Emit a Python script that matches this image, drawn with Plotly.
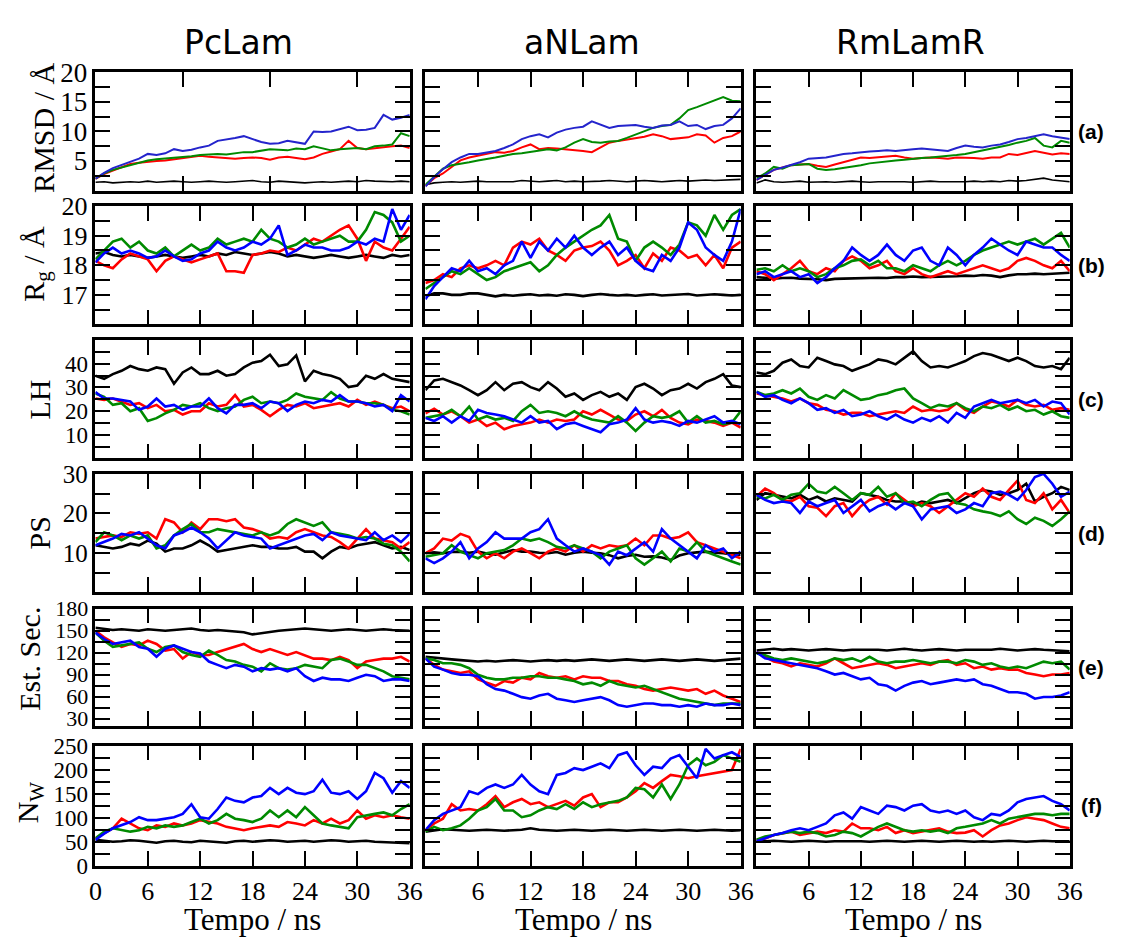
import plotly.graph_objects as go

W, H = 1123, 938

# ---------------- data (time in ns) ----------------
time_ns = list(range(0, 37))

col_titles = ["PcLam", "aNLam", "RmLamR"]
row_titles = ["RMSD / Å", "R<sub>g</sub> / Å", "LH", "PS", "Est. Sec.", "N<sub>W</sub>"]
row_tags = ["(a)", "(b)", "(c)", "(d)", "(e)", "(f)"]
x_ticks = [0, 6, 12, 18, 24, 30, 36]

# ---- (a) RMSD ----
rmsd_pclam_k = [1.4,1.5,1.3,1.4,1.5,1.4,1.6,1.4,1.5,1.6,1.5,1.4,1.5,1.6,1.5,1.4,1.5,1.6,1.7,1.5,1.4,1.6,1.5,1.4,1.3,1.4,1.5,1.4,1.5,1.6,1.5,1.7,1.6,1.5,1.5,1.6,1.5]
rmsd_pclam_r = [2.0,2.8,3.4,4.0,4.5,4.7,4.9,5.0,5.1,5.3,5.5,5.6,5.9,5.7,5.6,5.5,5.4,5.5,5.6,5.5,5.2,5.6,5.7,5.5,5.3,5.6,6.2,6.6,7.0,8.4,7.2,7.0,7.2,7.4,7.5,7.6,7.2]
rmsd_pclam_g = [2.0,2.9,3.5,3.9,4.2,4.7,5.1,5.3,5.4,5.5,5.6,5.8,6.0,6.1,6.2,6.1,6.3,6.5,6.5,6.7,7.0,6.9,6.8,7.1,7.0,7.5,7.2,6.8,7.0,7.1,7.2,7.0,7.5,7.6,7.8,9.7,9.2]
rmsd_pclam_b = [2.0,3.0,3.8,4.3,4.8,5.4,6.2,6.0,6.3,7.0,6.7,6.9,7.3,7.6,8.4,8.6,8.9,9.2,8.7,8.2,7.9,8.0,8.4,8.2,7.9,10.0,9.9,10.0,10.4,10.8,10.2,10.3,10.6,12.8,12.0,12.3,12.8]

rmsd_anlam_k = [1.0,1.3,1.4,1.5,1.4,1.5,1.6,1.5,1.5,1.6,1.5,1.7,1.6,1.5,1.6,1.7,1.5,1.6,1.5,1.5,1.6,1.7,1.6,1.5,1.6,1.7,1.6,1.5,1.6,1.7,1.6,1.7,1.8,1.7,1.8,1.8,1.9]
rmsd_anlam_r = [0.8,2.1,2.9,4.0,5.1,5.6,5.9,6.2,6.5,6.4,6.7,7.3,7.8,7.0,7.2,7.1,7.0,6.8,6.7,6.5,7.3,8.1,8.4,8.6,8.9,9.1,9.5,9.2,8.7,8.9,9.0,9.5,9.3,8.1,8.9,9.2,10.0]
rmsd_anlam_g = [1.0,2.4,3.7,4.3,4.5,4.8,5.1,5.3,5.6,5.9,6.2,6.3,6.5,6.8,7.0,6.8,7.3,8.1,8.7,8.2,8.1,8.3,8.4,8.9,9.5,10.0,10.6,10.9,11.1,12.2,13.6,14.1,14.7,15.2,15.8,15.2,15.1]
rmsd_anlam_b = [0.7,2.3,3.6,4.8,5.6,6.2,6.2,6.5,6.7,7.2,7.8,8.7,9.2,9.5,9.0,9.8,10.3,10.6,10.8,11.7,11.1,10.6,10.9,11.0,11.1,10.8,10.6,11.0,11.1,11.7,10.9,11.1,10.4,10.9,11.1,12.2,13.9]

rmsd_rmlamr_k = [1.3,1.8,1.5,1.4,1.5,1.6,1.4,1.5,1.5,1.4,1.5,1.6,1.5,1.4,1.5,1.5,1.6,1.5,1.4,1.5,1.6,1.5,1.5,1.4,1.5,1.6,1.5,1.6,1.5,1.7,1.6,1.7,1.9,2.1,1.8,1.7,1.5]
rmsd_rmlamr_r = [1.8,2.7,3.5,3.9,4.3,4.4,4.5,4.2,4.0,4.4,4.8,5.2,5.6,5.5,5.6,5.7,5.9,5.6,5.4,5.5,5.6,5.5,5.4,5.6,5.6,5.5,5.4,5.6,5.6,6.2,6.0,6.3,6.7,6.4,6.1,6.3,6.2]
rmsd_rmlamr_g = [2.1,2.9,4.0,3.7,4.3,4.4,4.5,3.7,3.5,3.6,3.8,4.1,4.3,4.6,4.8,4.9,5.1,5.2,5.4,5.5,5.6,5.7,5.9,6.0,6.2,6.5,6.7,7.0,7.3,7.7,8.1,8.4,8.9,7.6,7.3,8.4,8.1]
rmsd_rmlamr_b = [1.8,2.7,3.5,3.9,4.3,4.8,5.4,5.5,5.6,5.9,6.2,6.3,6.5,6.6,6.7,6.8,6.7,6.9,7.0,7.1,7.0,6.9,6.7,7.2,7.6,7.4,7.3,7.6,7.8,8.2,8.7,8.9,9.2,9.5,9.2,8.9,8.7]

# ---- (b) Rg ----
rg_pclam_k = [18.4,18.45,18.35,18.3,18.35,18.3,18.25,18.3,18.35,18.3,18.25,18.3,18.35,18.3,18.4,18.35,18.45,18.4,18.35,18.4,18.45,18.4,18.3,18.35,18.3,18.25,18.3,18.35,18.3,18.25,18.3,18.35,18.3,18.25,18.35,18.3,18.35]
rg_pclam_r = [18.15,18.0,17.9,18.2,18.4,18.3,18.2,17.8,18.15,18.3,18.2,18.1,18.2,18.3,18.4,17.8,17.8,17.75,18.35,18.4,18.5,18.45,18.6,18.5,18.7,18.9,18.8,19.0,19.2,19.35,18.9,18.15,18.8,18.6,18.5,18.9,19.3]
rg_pclam_g = [18.2,18.5,18.8,18.9,18.6,18.8,18.5,18.4,18.6,18.3,18.5,18.7,18.5,18.6,18.9,18.7,18.8,18.9,18.8,19.2,18.9,18.8,18.6,18.7,18.9,18.7,18.8,18.9,19.0,18.8,18.8,19.2,19.8,19.7,19.45,18.8,19.0]
rg_pclam_b = [18.1,18.4,18.6,18.4,18.5,18.4,18.25,18.3,18.5,18.3,18.15,18.2,18.4,18.5,18.8,18.6,18.5,18.6,18.8,18.7,18.9,19.35,18.35,18.5,18.7,18.6,18.6,18.5,18.5,18.6,18.8,18.7,18.9,18.8,19.9,19.2,19.7]

rg_anlam_k = [16.95,17.05,17.05,17.0,17.0,17.05,17.05,17.0,16.95,17.0,16.97,17.0,17.02,16.98,17.0,16.97,17.02,17.0,16.96,17.0,17.03,17.0,16.98,17.0,16.97,17.0,17.02,16.98,17.0,17.0,17.03,16.98,17.0,17.02,17.0,16.98,17.0]
rg_anlam_r = [17.4,17.5,17.7,17.6,17.9,18.0,17.9,18.0,18.15,18.0,18.6,18.8,18.7,18.9,18.5,18.35,18.15,18.5,18.6,18.65,18.8,18.5,18.0,18.15,18.35,17.9,18.4,18.15,18.6,18.5,18.25,18.35,18.0,18.35,17.9,18.6,18.8]
rg_anlam_g = [17.2,17.4,17.6,17.8,17.7,17.9,17.7,17.5,17.6,17.8,17.9,18.0,18.1,17.8,18.0,18.35,18.6,18.8,19.0,19.2,19.35,19.7,18.9,18.8,18.15,18.6,18.8,18.6,18.35,18.7,19.45,19.35,19.0,19.7,19.2,19.7,19.9]
rg_anlam_b = [16.85,17.3,17.6,17.9,17.8,18.15,17.8,17.9,17.7,18.0,18.15,18.8,18.25,18.8,18.5,18.9,18.6,19.0,18.6,18.35,18.6,18.8,18.35,18.6,18.15,17.9,17.8,18.35,18.15,18.6,19.45,19.2,18.6,18.35,18.15,18.8,19.9]

rg_rmlamr_k = [17.6,17.58,17.55,17.57,17.58,17.55,17.55,17.53,17.5,17.54,17.55,17.56,17.55,17.57,17.58,17.57,17.6,17.6,17.62,17.6,17.6,17.61,17.62,17.63,17.65,17.64,17.67,17.65,17.6,17.66,17.7,17.7,17.72,17.7,17.72,17.74,17.75]
rg_rmlamr_r = [17.8,17.7,17.5,17.7,17.9,18.15,17.8,17.7,17.9,17.8,18.15,18.3,18.15,17.9,18.0,18.15,17.8,17.7,17.9,17.7,17.6,17.7,17.8,17.7,17.8,17.9,18.0,17.9,17.8,17.9,18.15,18.25,18.15,18.0,17.9,18.15,17.8]
rg_rmlamr_g = [17.85,17.9,17.8,18.0,17.8,17.9,17.8,17.6,17.7,17.9,18.0,18.15,18.2,18.0,18.15,17.9,17.9,17.8,18.0,17.9,17.8,18.0,18.15,18.0,18.15,18.35,18.5,18.6,18.7,18.8,18.7,18.8,18.9,18.7,18.9,19.1,18.6]
rg_rmlamr_b = [17.7,17.8,17.6,17.7,17.8,17.6,17.7,17.4,17.6,17.9,18.15,18.6,18.35,18.15,18.35,18.7,18.35,18.15,18.5,18.6,18.15,18.0,18.6,18.35,18.0,18.35,18.6,18.9,18.7,18.5,18.35,18.8,18.7,18.6,18.6,18.35,18.15]

# ---- (c) LH ----
lh_pclam_k = [34.9,33.6,35.6,37.0,39.0,37.7,37.0,38.4,37.7,31.5,36.3,38.4,35.6,35.6,37.0,34.9,35.6,38.4,40.4,41.1,43.8,39.0,39.7,43.5,32.5,37.0,35.6,34.9,33.6,30.1,30.8,34.9,33.6,35.6,33.6,32.9,32.2]
lh_pclam_r = [25.3,24.7,25.3,24.0,22.6,23.3,21.2,22.6,19.9,20.5,18.5,19.9,19.9,23.3,21.9,22.6,26.7,21.9,22.6,20.5,17.8,20.5,22.6,21.9,23.3,21.2,21.9,22.6,23.3,21.9,24.7,22.6,24.0,22.6,21.2,21.9,19.9]
lh_pclam_g = [27.4,26.0,22.6,23.3,19.9,21.2,15.8,17.0,19.0,20.5,22.6,21.9,23.3,21.2,20.0,21.2,21.9,24.7,26.0,23.3,24.0,23.3,24.7,27.4,26.0,25.3,24.7,28.0,25.3,24.0,24.0,23.3,23.3,22.6,20.5,19.9,18.5]
lh_pclam_b = [28.0,25.3,25.3,24.7,24.0,20.5,21.9,25.3,21.9,22.6,20.5,21.9,21.9,25.3,21.2,19.0,22.6,22.6,23.3,21.2,24.0,23.3,20.0,22.6,24.0,23.3,24.7,24.0,26.7,24.0,24.0,23.3,21.9,22.6,20.0,26.7,24.0]

lh_anlam_k = [28.8,32.9,33.6,32.2,30.8,28.8,26.7,28.8,32.2,28.8,31.5,32.2,30.1,28.8,32.2,29.5,26.0,27.4,24.7,26.7,28.1,26.0,27.4,24.7,30.1,31.5,29.5,26.7,28.8,29.5,31.5,29.5,32.2,33.6,35.6,30.8,30.1]
lh_anlam_r = [19.0,21.0,18.5,19.9,17.8,15.1,16.4,13.7,15.1,12.3,13.7,14.4,15.1,16.4,15.1,16.4,15.8,16.4,19.9,18.5,20.5,18.5,16.4,15.8,18.5,19.9,17.8,20.5,17.1,15.1,14.4,16.4,15.8,15.1,13.7,15.1,13.0]
lh_anlam_g = [17.1,17.8,18.5,20.5,17.8,21.9,16.4,17.8,16.4,17.1,15.8,19.9,22.6,19.2,19.9,19.2,17.8,19.9,17.8,16.4,15.8,15.1,17.8,15.1,11.6,15.1,17.8,17.1,17.8,19.9,15.1,17.8,15.1,15.8,14.4,15.1,19.9]
lh_anlam_b = [17.1,15.8,17.8,15.1,17.8,15.8,20.5,19.2,18.5,17.8,16.4,15.1,17.8,15.1,15.8,12.3,14.4,15.1,13.7,12.3,11.0,14.4,15.1,16.4,21.2,16.4,15.1,15.8,15.1,13.7,15.8,15.1,16.4,17.8,15.1,15.8,14.4]

lh_rmlamr_k = [36.3,35.6,37.0,40.4,41.8,39.0,38.4,42.5,41.1,39.7,39.0,37.0,38.4,39.7,41.8,41.1,39.7,42.5,45.2,41.1,38.4,39.0,38.4,39.7,41.1,43.2,44.5,43.8,42.5,41.1,42.5,41.1,39.0,38.4,39.0,37.7,42.5]
lh_rmlamr_r = [27.4,26.7,26.0,25.3,24.0,25.3,23.3,22.6,20.5,19.9,18.5,19.2,19.2,17.8,18.5,19.2,19.9,19.2,21.9,19.9,20.5,19.9,20.5,23.3,20.5,19.2,21.9,24.0,23.3,21.9,24.7,22.6,21.9,22.6,20.5,21.2,20.5]
lh_rmlamr_g = [28.1,26.7,27.4,28.8,27.4,29.5,26.0,24.7,26.7,25.3,28.8,26.7,24.7,25.3,26.7,27.4,28.8,29.5,25.3,23.3,21.2,22.6,21.9,23.3,21.2,19.9,21.9,21.2,22.6,20.5,21.9,19.9,20.5,18.5,19.9,17.8,17.1]
lh_rmlamr_b = [28.1,26.0,26.7,24.7,23.3,25.3,23.3,20.5,21.2,19.2,20.5,17.8,18.5,19.9,17.8,16.4,18.5,16.4,15.1,17.1,15.8,17.8,15.1,19.2,17.1,21.9,23.3,24.7,23.3,24.0,24.7,23.3,24.7,21.9,24.0,23.3,18.5]

# ---- (d) PS ----
ps_pclam_k = [11.9,11.5,11.1,11.5,12.3,11.9,13.1,12.3,10.3,11.1,11.1,11.9,13.1,11.9,10.3,10.7,11.1,11.5,11.9,11.5,11.5,11.1,11.1,11.5,10.3,10.3,8.6,10.3,11.5,11.1,11.9,12.3,12.7,11.9,11.1,11.5,10.7]
ps_pclam_r = [13.6,14.0,14.4,14.0,15.2,14.8,15.2,13.6,18.5,17.7,15.2,17.7,16.0,18.5,18.5,18.0,18.5,16.4,16.0,15.2,13.6,14.0,13.6,15.2,16.0,15.2,14.4,14.0,12.7,11.1,13.6,16.0,13.6,13.2,12.7,11.1,12.7]
ps_pclam_g = [12.7,15.2,14.4,13.2,14.4,13.6,14.4,11.1,11.9,14.4,16.0,17.3,15.2,15.2,16.0,15.6,15.2,14.8,14.4,15.2,14.4,15.2,17.3,18.5,17.7,16.8,17.7,15.2,14.8,14.4,13.6,14.0,13.6,12.3,11.9,10.3,7.8]
ps_pclam_b = [11.9,12.7,13.6,14.8,14.4,15.2,13.6,11.9,11.1,14.4,15.2,16.4,15.2,13.6,11.1,13.2,15.2,14.4,14.0,13.6,11.1,11.9,12.7,13.6,14.4,14.8,13.2,15.2,14.4,14.0,13.6,13.2,15.2,13.2,14.4,12.7,14.8]

ps_anlam_k = [9.9,10.1,9.9,10.2,10.3,10.0,10.3,9.8,9.5,10.1,10.7,10.3,10.3,10.0,9.9,10.2,9.5,10.0,10.3,10.0,9.9,9.4,8.6,9.2,9.5,9.0,9.1,8.8,8.2,9.3,9.9,10.1,10.3,10.0,9.9,9.6,9.5]
ps_anlam_r = [9.9,11.1,13.6,13.1,14.8,14.0,10.3,8.6,9.9,8.6,10.3,11.1,9.9,8.6,10.3,11.1,10.3,11.9,10.3,11.9,11.1,11.9,11.5,11.9,13.6,11.9,14.4,14.4,13.6,14.0,15.2,12.7,11.9,11.1,10.3,9.4,8.6]
ps_anlam_g = [9.0,9.4,9.9,11.9,10.3,9.4,8.6,9.9,10.3,10.7,11.9,13.6,13.1,13.6,12.7,11.5,11.1,11.9,11.1,10.3,8.6,10.3,11.1,11.9,8.6,7.0,8.6,10.3,7.8,11.1,10.3,12.7,10.3,9.4,8.6,7.8,7.0]
ps_anlam_b = [8.6,7.4,8.6,10.3,12.7,8.6,11.1,12.7,15.2,13.6,13.6,13.6,15.2,16.0,18.5,13.6,11.9,10.3,11.1,10.3,9.4,7.0,10.3,9.4,11.1,12.7,10.3,16.0,13.6,11.9,10.3,8.6,11.9,10.3,11.1,8.6,10.3]

ps_rmlamr_k = [23.4,25.1,24.7,24.2,23.8,24.7,23.4,24.2,23.0,23.8,23.4,23.0,25.1,24.7,24.2,23.4,23.0,23.0,22.2,23.0,22.6,23.0,23.4,22.6,23.8,25.1,25.9,25.5,24.7,25.1,25.9,27.5,23.0,24.2,25.1,26.7,25.9]
ps_rmlamr_r = [24.2,26.3,25.1,23.4,23.0,24.2,21.8,21.4,19.3,21.8,22.6,19.3,21.8,23.4,24.2,22.2,25.1,23.4,21.8,22.6,21.8,20.1,21.8,23.4,25.1,24.2,26.3,24.2,23.4,25.9,28.3,23.4,22.6,25.1,21.0,23.4,20.1]
ps_rmlamr_g = [24.2,23.8,24.7,23.4,24.7,25.1,27.5,25.5,25.1,26.7,25.1,23.4,25.1,24.7,26.7,24.2,25.1,22.6,23.0,21.8,23.4,24.7,25.1,22.6,22.2,21.0,20.5,20.1,19.3,20.5,18.5,17.3,18.9,18.1,16.8,18.5,20.5]
ps_rmlamr_b = [24.7,23.4,22.6,23.0,22.6,20.1,23.0,21.8,22.6,23.4,20.1,21.8,23.4,20.5,21.8,22.6,21.0,22.6,21.8,18.5,21.0,21.4,21.8,20.1,21.0,22.6,21.8,25.1,25.5,24.7,23.4,25.9,29.2,30.0,27.5,24.2,25.5]

# ---- (e) Est. Sec. ----
ss_pclam_k = [154,152,151,152,151,150,152,151,150,151,152,153,151,150,151,150,149,148,145,147,149,150,151,152,153,152,151,150,151,152,151,150,151,152,151,150,150]
ss_pclam_r = [150,141,134,128,132,130,136.5,132,123,125,112,121,117,117,121,125,128,132,125,121,125,121,117,121,117,112,112,110,114.5,110,99,108,110,112,112,114.5,108]
ss_pclam_g = [147.5,136.5,128,130,132,134,125.5,121,128,130,121,117,114.5,123,117,110,108,103.5,101,94.7,105.7,99,97,99,103.5,101,99,110,112,108,103.5,103.5,99,94.7,88,86,84]
ss_pclam_b = [147.5,138.7,132,134,136.5,127.7,125.5,114.5,125.5,130,125.5,121,119,108,103.5,99,103.5,101,94.7,99,97,99,94.7,99,88,81.5,86,83.7,83.7,81.5,86,90,88,81.5,83.7,83.7,81.5]

ss_anlam_k = [114.5,113,112,111,110,109,108,109,108,109,110,109,108,109,110,109,110,109,110,111,110,109,110,111,110,109,110,111,110,109,110,111,110,109,110,111,112]
ss_anlam_r = [112.3,103.5,97,94.7,92.5,94.7,83.7,79.3,75,81.5,79.3,86,83.7,92.5,88,86,88,83.7,88,86,86,81.5,81.5,77,75,70.5,68.4,70.5,72.7,70.5,68.4,70.5,64,68.4,61.8,57.4,53]
ss_anlam_g = [112.3,110,105.7,105.7,103.5,99,90,86,83.7,83.7,86,86,88,88,86,86,83.7,81.5,77,79.3,75,81.5,77,75,72.7,75,70.5,66,61.8,57.4,55.2,53,50.8,48.6,50.8,50.8,50.8]
ss_anlam_b = [112.3,101,97,92.5,90,90,88,77,70.5,68.4,64,59.5,57.4,61.8,64,57.4,55.2,53,55.2,57.4,59.5,55.2,48.6,46.4,48.6,50.8,50.8,48.6,48.6,46.4,48.6,46.4,50.8,48.6,48.6,50.8,48.6]

ss_rmlamr_k = [123,124,125.5,124,125,124,123,124,125,124,123,124,124,125,124,123,124,125.5,124,123,124,125,124,123,124,124,125,124,125.5,124,123,124,125,124,123,123,122]
ss_rmlamr_r = [121,114.5,108,105.7,101.3,105.7,103.5,101.3,105.7,112.3,105.7,99,101.3,103.5,105.7,103.5,99,101.3,103.5,105.7,103.5,108,110,103.5,105.7,99,101.3,97,99,97,97,92.5,90.3,88,90.3,90.3,92.5]
ss_rmlamr_g = [118.9,116.7,112.3,110,112.3,110,107.9,105.7,107.9,112.3,110,112.3,107.9,114.5,107.9,105.7,107.9,107.9,110,107.9,105.7,107.9,107.9,105.7,110,107.9,103.5,105.7,101.3,99,101.3,99,103.5,107.9,105.7,107.9,97]
ss_rmlamr_b = [121,112.3,110,107.9,105.7,103.5,101.3,99,94.7,90.3,92.5,88.1,83.7,85.9,77.1,74.9,68.4,74.9,79.3,81.5,77.1,79.3,81.5,83.7,81.5,83.7,77.1,74.9,70.5,66.2,66.2,64,57.4,59.6,59.6,61.8,66.2]

# ---- (f) N_W ----
nw_pclam_k = [54,52,50,51,53,52,50,48,51,52,50,49,52,51,50,48,51,52,50,51,53,52,50,51,52,50,51,53,52,50,51,52,50,49,48,48,47]
nw_pclam_r = [57,67,78,98,88,78,74,84,81,88,84,88,95,91,88,81,78,74,78,81,84,81,91,88,84,95,88,98,88,95,115,98,105,101,105,101,98]
nw_pclam_g = [57,71,78,74,71,74,81,78,84,81,84,91,98,88,95,108,98,95,91,98,115,101,115,101,122,105,88,84,81,78,101,105,108,111,105,118,128]
nw_pclam_b = [54,67,78,84,91,101,95,95,98,101,108,128,101,98,118,142,135,132,142,145,162,149,162,152,149,155,179,152,149,155,139,155,193,182,152,176,162]

nw_anlam_k = [71,74,76,75,74,73,74,75,74,73,74,75,78,75,74,73,74,75,74,73,74,75,74,73,74,75,74,73,74,75,74,73,74,75,74,73,74]
nw_anlam_r = [74,88,98,128,115,118,115,128,145,122,132,139,128,132,122,128,135,125,142,149,122,132,132,142,155,172,162,176,189,186,182,186,189,193,196,199,243]
nw_anlam_g = [71,81,74,78,84,98,115,122,139,115,115,101,105,115,122,118,128,118,132,122,128,132,135,142,162,159,142,169,139,169,209,223,209,216,230,223,216]
nw_anlam_b = [74,95,108,115,122,155,149,162,169,162,169,189,169,155,149,189,193,203,199,206,213,203,230,236,209,189,206,203,223,230,206,182,243,223,230,236,226]

nw_rmlamr_k = [54,51,52,51,50,51,52,51,50,51,51,52,51,50,51,52,51,50,51,52,51,50,51,52,51,50,51,50,51,52,51,50,51,52,51,51,51]
nw_rmlamr_r = [54,57,64,68,71,64,68,71,68,74,71,88,78,78,74,81,68,74,68,71,74,78,71,68,69,74,61,74,84,88,95,101,98,95,88,81,78]
nw_rmlamr_g = [54,61,64,68,71,68,71,68,61,64,71,68,61,71,81,88,81,74,71,74,71,74,68,78,81,84,88,95,88,98,101,105,108,108,105,108,108]
nw_rmlamr_b = [51,57,64,68,74,78,74,81,88,105,111,98,122,115,108,125,122,115,125,128,115,111,115,108,115,101,95,108,105,115,132,139,142,145,135,128,115]

panels = [
    [(rmsd_pclam_k, rmsd_pclam_r, rmsd_pclam_g, rmsd_pclam_b),
     (rmsd_anlam_k, rmsd_anlam_r, rmsd_anlam_g, rmsd_anlam_b),
     (rmsd_rmlamr_k, rmsd_rmlamr_r, rmsd_rmlamr_g, rmsd_rmlamr_b)],
    [(rg_pclam_k, rg_pclam_r, rg_pclam_g, rg_pclam_b),
     (rg_anlam_k, rg_anlam_r, rg_anlam_g, rg_anlam_b),
     (rg_rmlamr_k, rg_rmlamr_r, rg_rmlamr_g, rg_rmlamr_b)],
    [(lh_pclam_k, lh_pclam_r, lh_pclam_g, lh_pclam_b),
     (lh_anlam_k, lh_anlam_r, lh_anlam_g, lh_anlam_b),
     (lh_rmlamr_k, lh_rmlamr_r, lh_rmlamr_g, lh_rmlamr_b)],
    [(ps_pclam_k, ps_pclam_r, ps_pclam_g, ps_pclam_b),
     (ps_anlam_k, ps_anlam_r, ps_anlam_g, ps_anlam_b),
     (ps_rmlamr_k, ps_rmlamr_r, ps_rmlamr_g, ps_rmlamr_b)],
    [(ss_pclam_k, ss_pclam_r, ss_pclam_g, ss_pclam_b),
     (ss_anlam_k, ss_anlam_r, ss_anlam_g, ss_anlam_b),
     (ss_rmlamr_k, ss_rmlamr_r, ss_rmlamr_g, ss_rmlamr_b)],
    [(nw_pclam_k, nw_pclam_r, nw_pclam_g, nw_pclam_b),
     (nw_anlam_k, nw_anlam_r, nw_anlam_g, nw_anlam_b),
     (nw_rmlamr_k, nw_rmlamr_r, nw_rmlamr_g, nw_rmlamr_b)],
]

# y axis specs per row: range, tick values, labelled values
y_ranges = [[0, 20], [16, 20], [0, 50], [0, 30], [20, 180], [0, 250]]
y_tickvals = [
    [2.5, 5, 7.5, 10, 12.5, 15, 17.5, 20],
    [16.5, 17, 17.5, 18, 18.5, 19, 19.5, 20],
    [5, 10, 15, 20, 25, 30, 35, 40, 45],
    [5, 10, 15, 20, 25, 30],
    [30, 45, 60, 75, 90, 105, 120, 135, 150, 165, 180],
    [0, 25, 50, 75, 100, 125, 150, 175, 200, 225, 250],
]
y_labelled = [
    [5, 10, 15, 20],
    [17, 18, 19, 20],
    [10, 20, 30, 40],
    [10, 20, 30],
    [30, 60, 90, 120, 150, 180],
    [0, 50, 100, 150, 200, 250],
]
y_font_sizes = [27, 26, 23, 25, 22, 23]

# ---------------- layout geometry (pixels) ----------------
col_px = [(90, 410), (426, 747), (763, 1082)]
row_px = [(59, 181), (197, 319), (335, 457), (473, 595), (612, 733), (753, 877)]
ytitle_x = [37, 30, 33, 33, 23, 23]
ytitle_y = [116, 256, 396, 534, 664, 812]
col_title_x = [236, 585, 920]

colors = ["#000000", "#ff0000", "#008a00", "#0000ff"]
SERIF = "Liberation Serif, Times New Roman, serif"

fig = go.Figure()
layout = dict(
    width=W, height=H,
    margin=dict(l=0, r=0, t=0, b=0),
    paper_bgcolor="white", plot_bgcolor="white",
    showlegend=False,
)
annotations = []

for r in range(6):
    for c in range(3):
        idx = r * 3 + c + 1
        xa = "xaxis" if idx == 1 else f"xaxis{idx}"
        ya = "yaxis" if idx == 1 else f"yaxis{idx}"
        xref = "x" if idx == 1 else f"x{idx}"
        yref = "y" if idx == 1 else f"y{idx}"
        series = panels[r][c]
        for s, (vals, col) in enumerate(zip(series, colors)):
            if r == 0:
                lw = 1.6 if s == 0 else 2.0
                if s == 3:
                    col = "#2424cc"
            else:
                lw = 2.6
            fig.add_trace(go.Scatter(
                x=time_ns, y=vals, mode="lines",
                line=dict(color=col, width=lw),
                xaxis=xref, yaxis=yref, hoverinfo="skip",
            ))
        x0, x1 = col_px[c]
        y0, y1 = row_px[r]
        if r == 0 and c == 0:
            xt = [10, 20, 30]
        else:
            xt = x_ticks
        if r == 5:
            xtext = [("" if (c > 0 and v == 0) else str(v)) for v in xt]
        else:
            xtext = ["" for v in xt]
        layout[xa] = dict(
            domain=[x0 / W, x1 / W], anchor=yref,
            range=[0, 36], showgrid=False, zeroline=False,
            showline=True, mirror="ticks", linecolor="black", linewidth=2.5,
            ticks="inside", ticklen=15, tickwidth=2, tickcolor="black",
            tickmode="array", tickvals=xt, ticktext=xtext,
            showticklabels=(r == 5),
            tickfont=dict(family=SERIF, size=26, color="black"),
            fixedrange=True,
        )
        ytext = [(f"{v:g}" if v in y_labelled[r] else "") for v in y_tickvals[r]]
        layout[ya] = dict(
            domain=[1 - y1 / H, 1 - y0 / H], anchor=xref,
            range=y_ranges[r], showgrid=False, zeroline=False,
            showline=True, mirror="ticks", linecolor="black", linewidth=2.5,
            ticks="inside", ticklen=15, tickwidth=2, tickcolor="black",
            tickmode="array", tickvals=y_tickvals[r], ticktext=ytext,
            showticklabels=(c == 0),
            tickfont=dict(family=SERIF, size=y_font_sizes[r], color="black"),
            fixedrange=True,
        )

# column titles
for c in range(3):
    annotations.append(dict(
        x=col_title_x[c] / W, y=1 - 28 / H, xref="paper", yref="paper",
        text=col_titles[c], showarrow=False, xanchor="center", yanchor="middle",
        font=dict(family="DejaVu Sans, sans-serif", size=33, color="black"),
    ))
# y titles and panel tags
for r in range(6):
    annotations.append(dict(
        x=ytitle_x[r] / W, y=1 - ytitle_y[r] / H, xref="paper", yref="paper",
        text=row_titles[r], showarrow=False, textangle=-90,
        xanchor="center", yanchor="middle",
        font=dict(family=SERIF, size=30, color="black"),
    ))
    annotations.append(dict(
        x=1104 / W, y=1 - (row_px[r][0] + row_px[r][1]) / 2 / H,
        xref="paper", yref="paper", text="<b>" + row_tags[r] + "</b>",
        showarrow=False, xanchor="center", yanchor="middle",
        font=dict(family="Liberation Sans, Arial, sans-serif", size=21, color="black"),
    ))
# x titles
for c in range(3):
    annotations.append(dict(
        x=(col_px[c][0] + col_px[c][1]) / 2 / W, y=1 - 932 / H,
        xref="paper", yref="paper", text="Tempo / ns", showarrow=False,
        xanchor="center", yanchor="middle",
        font=dict(family=SERIF, size=31, color="black"),
    ))

layout["annotations"] = annotations
fig.update_layout(**layout)
fig.write_html("out.html")
